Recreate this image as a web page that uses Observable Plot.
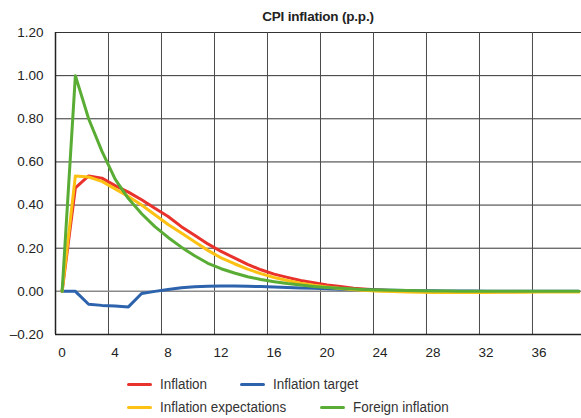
<!DOCTYPE html>
<html><head><meta charset="utf-8">
<script src="https://cdn.jsdelivr.net/npm/d3@7"></script>
<script src="https://cdn.jsdelivr.net/npm/@observablehq/plot@0.6"></script>
<style>
body{margin:0;background:#fff;font-family:"Liberation Sans Narrow","Arial Narrow","Liberation Sans",Arial,sans-serif;color:#222;}
#wrap{width:581px;height:418px;position:relative;overflow:hidden}
#title{height:28px;box-sizing:border-box;padding-top:7px;line-height:20px;text-align:center;padding-left:55px;font-weight:bold;font-size:13.5px;color:#222;letter-spacing:-0.2px}
#legend{position:relative;height:50px;font-size:14px;color:#333}
.item{position:absolute;display:flex;align-items:center;white-space:nowrap;height:20px}
.sw{display:inline-block;width:25px;height:3px;border-radius:2px;margin-right:8px}
.tx{display:inline-block;transform:scaleX(0.96);transform-origin:left center}
svg{display:block;overflow:visible}
</style></head>
<body><div id="wrap">
<div id="title">CPI inflation (p.p.)</div>
<div id="chart"></div>
<div id="legend"></div>
</div>
<script>
const seriesNames = ["Inflation", "Inflation target", "Inflation expectations", "Foreign inflation"];
const seriesColors = ["#e8322b", "#2d62ac", "#fdc114", "#5aad34"];
const xTickValues = [0, 4, 8, 12, 16, 20, 24, 28, 32, 36];
const yTickValues = [-0.2, 0, 0.2, 0.4, 0.6, 0.8, 1.0, 1.2];

const inflation = [0, 0.48, 0.535, 0.525, 0.49, 0.46, 0.425, 0.385, 0.347, 0.30, 0.26, 0.22, 0.185, 0.155, 0.125, 0.10, 0.08, 0.065, 0.05, 0.04, 0.03, 0.022, 0.015, 0.01, 0.006, 0.003, 0.001, -0.001, -0.002, -0.002, -0.002, -0.002, -0.002, -0.002, -0.002, -0.001, -0.001, -0.001, -0.001, -0.001];
const inflationTarget = [0, 0, -0.06, -0.065, -0.068, -0.072, -0.01, 0.0, 0.009, 0.017, 0.021, 0.024, 0.025, 0.025, 0.024, 0.022, 0.02, 0.018, 0.016, 0.014, 0.012, 0.01, 0.008, 0.007, 0.006, 0.005, 0.004, 0.003, 0.003, 0.002, 0.002, 0.002, 0.001, 0.001, 0.001, 0.001, 0.001, 0.001, 0.0, 0.0];
const inflationExpectations = [0, 0.535, 0.53, 0.51, 0.475, 0.44, 0.40, 0.355, 0.31, 0.27, 0.23, 0.19, 0.155, 0.128, 0.103, 0.082, 0.064, 0.05, 0.038, 0.028, 0.02, 0.013, 0.008, 0.004, 0.001, -0.001, -0.003, -0.004, -0.005, -0.005, -0.005, -0.005, -0.005, -0.004, -0.004, -0.004, -0.003, -0.003, -0.003, -0.003];
const foreignInflation = [0, 1.0, 0.80, 0.65, 0.52, 0.43, 0.36, 0.30, 0.25, 0.205, 0.165, 0.13, 0.105, 0.085, 0.068, 0.055, 0.045, 0.036, 0.029, 0.023, 0.018, 0.014, 0.011, 0.008, 0.006, 0.005, 0.004, 0.003, 0.002, 0.002, 0.001, 0.001, 0.001, 0.001, 0.0, 0.0, 0.0, 0.0, 0.0, 0.0];

const allSeries = [inflation, inflationTarget, inflationExpectations, foreignInflation];
const rows = [];
allSeries.forEach((arr, si) => arr.forEach((v, i) => rows.push({t: i, v, s: seriesNames[si]})));

const boundaries = xTickValues.slice(1).map(d => d - 0.5);
const fmtY = d => d < 0 ? "\u2013" + Math.abs(d).toFixed(2) : d.toFixed(2);

const chart = Plot.plot({
  width: 581, height: 340,
  marginTop: 4, marginBottom: 34, marginLeft: 55, marginRight: 0,
  style: {fontFamily: '"Liberation Sans Narrow","Arial Narrow","Liberation Sans",Arial,sans-serif', fontSize: "13px", color: "#222", background: "#fff", overflow: "visible"},
  x: {domain: [-0.5, 39.2], axis: null, label: null},
  y: {domain: [-0.2, 1.2], axis: null, label: null},
  color: {domain: seriesNames, range: seriesColors},
  marks: [
    Plot.ruleY(yTickValues.filter(d => d !== 0 && d !== -0.2), {stroke: "#333", strokeWidth: 1}),
    Plot.ruleX(boundaries, {stroke: "#4a4a4a", strokeWidth: 1}),
    Plot.ruleY([0], {stroke: "#8a8a8a", strokeWidth: 1.5}),
    Plot.ruleY([-0.2], {stroke: "#222", strokeWidth: 1.5}),
    Plot.ruleX([-0.5], {stroke: "#222", strokeWidth: 1.5}),
    Plot.axisY(yTickValues, {tickSize: 0, tickPadding: 12, tickFormat: fmtY, fontSize: 13.5, fill: "#222", label: null}),
    Plot.axisX(xTickValues, {tickSize: 0, tickPadding: 13, tickFormat: d => String(d), fontSize: 13.5, fill: "#222", label: null}),
    Plot.lineY(rows, {x: "t", y: "v", stroke: "s", z: "s", strokeWidth: 3, curve: "linear"})
  ]
});
document.getElementById("chart").appendChild(chart);

const legendPos = [
  {left: 127, top: 6}, {left: 240, top: 6},
  {left: 127, top: 29}, {left: 320, top: 29}
];
const leg = document.getElementById("legend");
seriesNames.forEach((n, i) => {
  const d = document.createElement("div");
  d.className = "item";
  d.style.left = legendPos[i].left + "px";
  d.style.top = legendPos[i].top + "px";
  const sw = document.createElement("span");
  sw.className = "sw"; sw.style.background = seriesColors[i];
  const tx = document.createElement("span");
  tx.className = "tx";
  tx.textContent = n;
  d.appendChild(sw); d.appendChild(tx);
  leg.appendChild(d);
});
</script>
</body></html>
